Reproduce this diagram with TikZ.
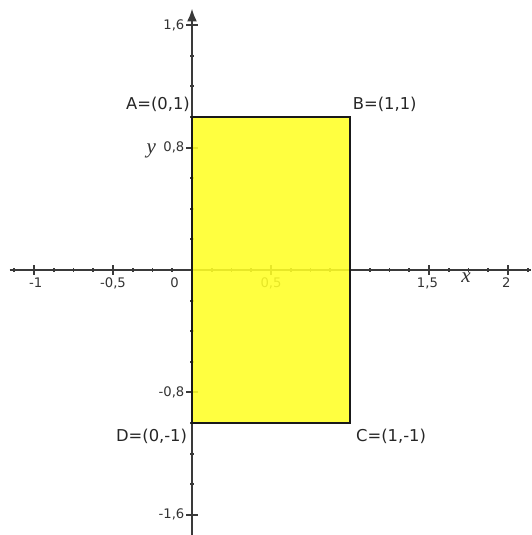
\documentclass[tikz,border=0pt]{standalone}
\usepackage{fontspec}
\setmainfont{DejaVu Sans}
\usetikzlibrary{arrows.meta}
\definecolor{axisgray}{HTML}{3A3A3A}
\definecolor{rectfill}{HTML}{FFFF26}
\tikzset{
  >={Latex[length=2.6mm,width=2.0mm]},
  axisline/.style={draw=axisgray, line width=1.4pt},
  minortick/.style={draw=axisgray, line width=1.1pt},
  majortick/.style={draw=axisgray, line width=1.1pt},
  ticklabel/.style={font=\fontsize{7.5}{9}\selectfont, text=black!80, inner sep=1pt},
  pointlabel/.style={font=\fontsize{9.3}{11}\selectfont, text=black!85, inner sep=1pt},
  axislabel/.style={font=\fontsize{12}{13}\selectfont, text=black!80, inner sep=1pt},
}
\newfontfamily\axisfont{Liberation Serif}
\begin{document}
\begin{tikzpicture}[x=3.16cm, y=3.06cm, line cap=butt]
  \useasboundingbox (-1.2152,-1.732) rectangle (2.1456,1.7647);

  % axes
  \draw[axisline] (-1.155,0) -- (2.1456,0);
  \draw[axisline, ->] (0,-1.74) -- (0,1.71);

  % ticks on x
  \foreach \t in {-9,...,17} {
    \draw[minortick] (\t*0.125,-0.012) -- (\t*0.125,0.012);
  }
  \foreach \t in {-1,-0.5,0.5,1.5,2} {
    \draw[majortick] (\t,-0.03) -- (\t,0.03);
  }
  % ticks on y
  \foreach \t in {-8,...,8} {
    \draw[minortick] (-0.012,\t*0.2) -- (0.012,\t*0.2);
  }
  \foreach \t in {-1.6,-0.8,0.8,1.6} {
    \draw[majortick] (-0.035,\t) -- (0.035,\t);
  }

  % tick labels
  \node[ticklabel] (xm1) at (-0.99,-0.085) {-1};
  \node[ticklabel] (xm05) at (-0.5,-0.085) {-0,5};
  \node[ticklabel] (x0) at (-0.11,-0.085) {0};
  \node[ticklabel] (x05) at (0.5,-0.085) {0,5};
  \node[ticklabel] (x15) at (1.49,-0.085) {1,5};
  \node[ticklabel] (x2) at (1.99,-0.085) {2};
  \node[ticklabel, anchor=east] (y16) at (-0.035,1.6) {1,6};
  \node[ticklabel, anchor=east] (y08) at (-0.035,0.8) {0,8};
  \node[ticklabel, anchor=east] (ym08) at (-0.035,-0.8) {-0,8};
  \node[ticklabel, anchor=east] (ym16) at (-0.035,-1.6) {-1,6};

  % axis names
  \node[axislabel] (xname) at (1.735,-0.05) {\axisfont\itshape x};
  \node[axislabel, anchor=east] (yname) at (-0.215,0.78) {\axisfont\itshape y};

  % rectangle
  \fill[rectfill, fill opacity=0.88] (0,-1) rectangle (1,1);
  \draw[black!90, line width=1.3pt] (0,-1) rectangle (1,1);

  % corner labels
  \node[pointlabel] (A) at (-0.215,1.085) {A=(0,1)};
  \node[pointlabel] (B) at (1.22,1.085) {B=(1,1)};
  \node[pointlabel] (D) at (-0.256,-1.09) {D=(0,-1)};
  \node[pointlabel] (C) at (1.26,-1.09) {C=(1,-1)};
\end{tikzpicture}
\end{document}
